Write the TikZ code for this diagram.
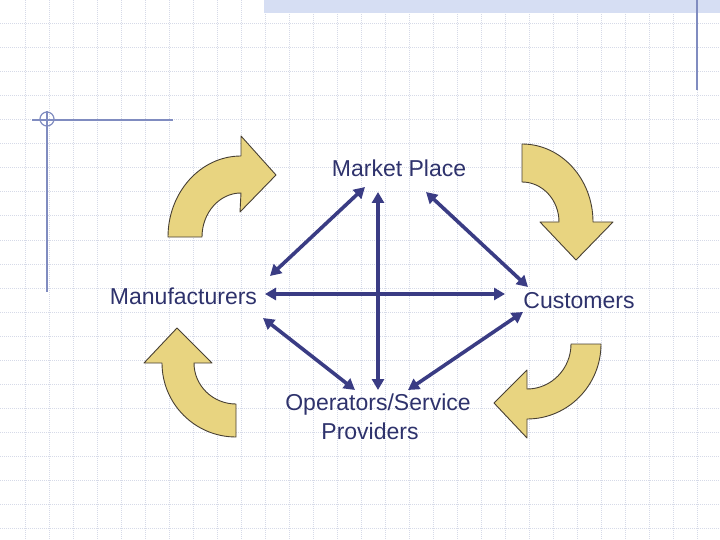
\documentclass[tikz,border=0pt]{standalone}
\usepackage{fontspec}
\setmainfont{Liberation Sans}
\usetikzlibrary{arrows.meta}
\definecolor{gridc}{RGB}{214,218,232}
\definecolor{decoc}{RGB}{128,140,192}
\definecolor{bandc}{RGB}{214,222,243}
\definecolor{navy}{RGB}{58,60,132}
\definecolor{txtc}{RGB}{46,50,108}
\definecolor{yfill}{RGB}{232,212,128}
\definecolor{yline}{RGB}{72,64,52}
\begin{document}
\begin{tikzpicture}[x=1pt,y=-1pt,
  gridline/.style={gridc, line width=1pt, dash pattern=on 1pt off 1pt},
  deco/.style={decoc, line width=1.5pt},
  conn/.style={navy, line width=3.6pt, {Triangle[length=11pt,width=12pt]}-{Triangle[length=11pt,width=12pt]}},
  lbl/.style={text=txtc, font=\fontsize{23}{29}\selectfont, inner sep=0pt, anchor=base},
  curved/.style={fill=yfill, draw=yline, line width=0.9pt, line join=round}]
\useasboundingbox (0,0) rectangle (720,540);
\fill[white] (0,0) rectangle (720,540);
% grid
\foreach \i in {25,49,...,697} \draw[gridline] (\i,0) -- (\i,540);
\foreach \j in {24,48,...,528} \draw[gridline] (0,\j) -- (720,\j);
% top band and decorations
\fill[bandc] (264,0) rectangle (720,13);
\draw[deco] (697,0) -- (697,90);
\draw[deco] (32,120) -- (173,120);
\draw[deco] (47,111) -- (47,292);
\draw[deco, line width=1.2pt] (47,119) circle[radius=7];
% curved yellow arrows
\draw[curved] (168,237) arc[start angle=180, end angle=270, x radius=73, y radius=81]
  -- (241,136) -- (276,175) -- (240,212) -- (241,193)
  arc[start angle=270, end angle=180, x radius=39, y radius=44] -- cycle;
\draw[curved] (522,144) arc[start angle=270, end angle=360, x radius=71, y radius=78]
  -- (613,222) -- (576,260) -- (540,222) -- (559,222)
  arc[start angle=0, end angle=-90, x radius=37, y radius=40] -- cycle;
\draw[curved] (162,363) arc[start angle=180, end angle=90, x radius=74, y radius=74]
  -- (236,404) arc[start angle=90, end angle=180, x radius=42, y radius=41]
  -- (212,363) -- (177,328) -- (144,363) -- cycle;
\draw[curved] (601,344) arc[start angle=0, end angle=90, x radius=74, y radius=75]
  -- (527,438) -- (494,403) -- (527,370) -- (527,389)
  arc[start angle=90, end angle=0, x radius=44, y radius=45] -- cycle;
% labels
\node[lbl] (mp) at (399,177) {Market Place};
\node[lbl] (mf) at (183.5,304) {Manufacturers};
\node[lbl] (cu) at (579,308) {Customers};
\node[lbl] (op) at (378,410) {\begin{tabular}[t]{@{}c@{}}Operators/Service\\Providers\hspace*{16pt}\end{tabular}};
% connector end points
\coordinate (mpL) at (365,187);
\coordinate (mpC) at (378,192);
\coordinate (mpR) at (426,192);
\coordinate (mfT) at (270,276);
\coordinate (mfM) at (265,294);
\coordinate (mfB) at (263,318);
\coordinate (cuT) at (528,287);
\coordinate (cuM) at (505,294);
\coordinate (cuB) at (523,312);
\coordinate (opL) at (355,390);
\coordinate (opC) at (378,390);
\coordinate (opR) at (408,390);
% connectors
\draw[conn] (mpL) -- (mfT);
\draw[conn] (mpR) -- (cuT);
\draw[conn] (mfM) -- (cuM);
\draw[conn] (mpC) -- (opC);
\draw[conn] (mfB) -- (opL);
\draw[conn] (cuB) -- (opR);
\end{tikzpicture}
\end{document}
